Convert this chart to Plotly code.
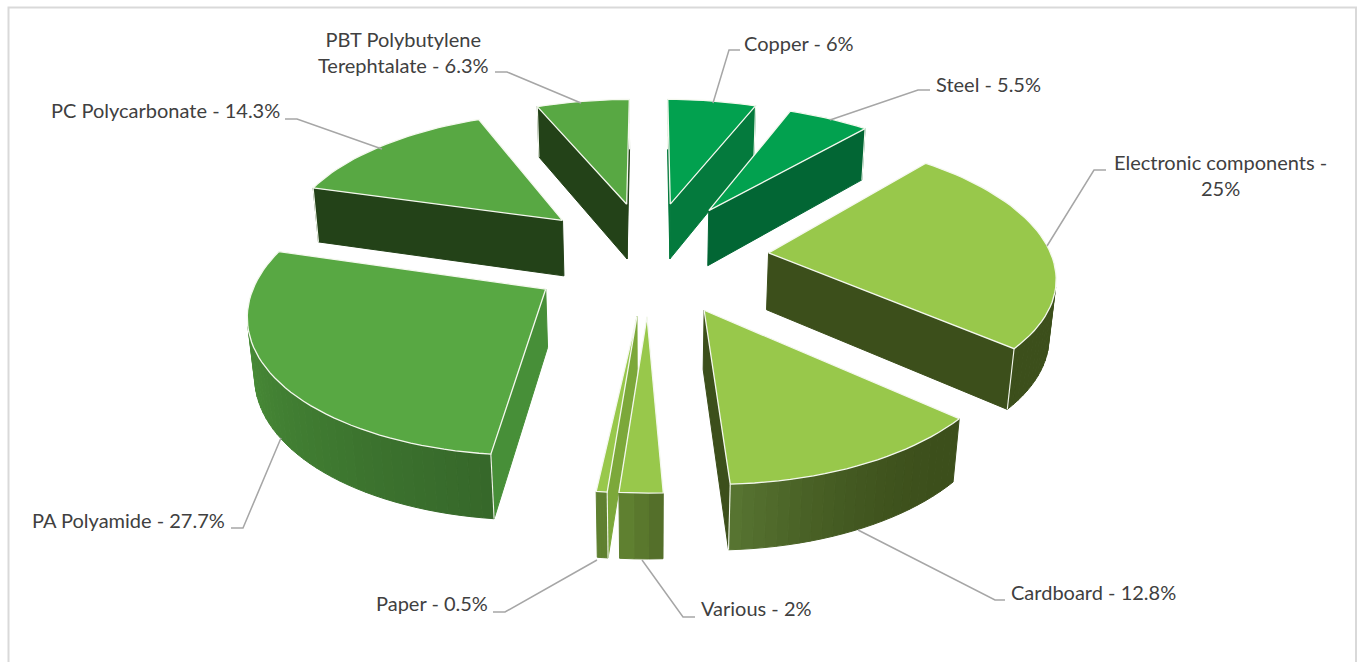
import numpy as np
import plotly.graph_objects as go

# ---- data ----
categories = ["Copper", "Steel", "Electronic components", "Cardboard", "Various",
              "Paper", "PA Polyamide", "PC Polycarbonate", "PBT Polybutylene Terephtalate"]
values = [6, 5.5, 25, 12.8, 2, 0.5, 27.7, 14.3, 6.3]
label_texts = ["Copper - 6%", "Steel - 5.5%", "Electronic components -<br>25%", "Cardboard - 12.8%",
               "Various - 2%", "Paper - 0.5%", "PA Polyamide - 27.7%", "PC Polycarbonate - 14.3%",
               "PBT Polybutylene<br>Terephtalate - 6.3%"]

# ---- styles ----
top_colors = ["#02A14F", "#02A14F", "#98C84B", "#98C84B", "#98C84B", "#98C84B", "#58A843", "#58A843", "#58A843"]
radial_colors = ["#047A3D", "#026634", "#3C4F1B", "#3C4F1B", "#7CA83A", "#7CA83A", "#478F38", "#234218", "#234218"]
rim_start = ["#047A3D", "#026634", "#3C4F1B", "#3C4F1B", "#546F2A", "#5F8030", "#36682A", "#234218", "#234218"]
rim_end = ["#047A3D", "#026634", "#3C4F1B", "#577431", "#5F8030", "#5F8030", "#4F9A3C", "#234218", "#234218"]
rim_power = [1, 1, 1, 2.2, 1, 1, 1, 1, 1]

# ---- camera of the tilted, exploded pie ----
EL = np.radians(28); D = 6.3; S0 = 283; CX = 649; CY = 256.5
EXPLODE = 0.425; H = 0.232


def project(X, Y, Z):
    depth = D + Y * np.cos(EL) - Z * np.sin(EL)
    k = S0 * D / depth
    return CX + X * k, CY - (Y * np.sin(EL) + Z * np.cos(EL)) * k


def mix(a, b, t):
    ca = [int(a[i:i + 2], 16) for i in (1, 3, 5)]
    cb = [int(b[i:i + 2], 16) for i in (1, 3, 5)]
    return "rgb(%d,%d,%d)" % tuple(round(p + (q - p) * t) for p, q in zip(ca, cb))


fig = go.Figure()


def poly(pts, color, edge=None, width=1.0):
    xs = [p[0] for p in pts] + [pts[0][0]]
    ys = [p[1] for p in pts] + [pts[0][1]]
    fig.add_trace(go.Scatter(x=xs, y=ys, mode="lines", fill="toself", fillcolor=color,
                             line=dict(color=edge or color, width=width), hoverinfo="skip", showlegend=False))


def edge_line(p, q):
    fig.add_trace(go.Scatter(x=[p[0], q[0]], y=[p[1], q[1]], mode="lines",
                             line=dict(color="#F4F8EE", width=1.1), hoverinfo="skip", showlegend=False))


def facing(pts):
    a = 0.0
    for i in range(len(pts)):
        x0, y0 = pts[i]; x1, y1 = pts[(i + 1) % len(pts)]
        a += x0 * y1 - x1 * y0
    return a


total = sum(values)
edges = np.cumsum([0] + values) / total * 2 * np.pi
wedges = []
for i, v in enumerate(values):
    a0, a1 = edges[i], edges[i + 1]
    mid = (a0 + a1) / 2
    wedges.append((EXPLODE * np.cos(mid), i, a0, a1, mid))

for _, i, a0, a1, mid in sorted(wedges, reverse=True):
    ox, oy = EXPLODE * np.sin(mid), EXPLODE * np.cos(mid)
    n = max(3, int(np.degrees(a1 - a0) / 2))
    ang = np.linspace(a0, a1, n + 1)
    top = [project(ox, oy, 0)] + [project(ox + np.sin(t), oy + np.cos(t), 0) for t in ang]
    bot = [project(ox, oy, -H)] + [project(ox + np.sin(t), oy + np.cos(t), -H) for t in ang]
    # radial walls
    walls = []
    for a, b, outer in ((0, 1, 1), (n + 1, 0, n + 1)):
        q = [top[a], top[b], bot[b], bot[a]]
        if facing(q) < 0:
            poly(q, radial_colors[i])
            walls.append(outer)
    # outer rim
    for j in range(1, n + 1):
        q = [top[j], top[j + 1], bot[j + 1], bot[j]]
        if facing(q) < 0:
            t = (j - 1) / max(n - 1, 1)
            poly(q, mix(rim_start[i], rim_end[i], t ** rim_power[i]))
    for outer in walls:
        edge_line(top[outer], bot[outer])
    poly(top, top_colors[i], edge="#F4F8EE", width=1.3)

# ---- leader lines and labels, placed as in the picture ----
leaders = [
    ([740, 729, 713], [50, 50, 103]),
    ([930, 918, 830], [90, 90, 120]),
    ([1106, 1094, 1047], [170, 170, 246]),
    ([1005, 995, 858], [600, 600, 530]),
    ([695, 683, 642], [617, 617, 560]),
    ([493, 505, 597], [612, 612, 560]),
    ([231, 243, 281], [528, 528, 438]),
    ([285, 297, 382], [119, 119, 149]),
    ([495, 507, 581], [72, 72, 103]),
]
for lx, ly in leaders:
    fig.add_trace(go.Scatter(x=lx, y=ly, mode="lines", line=dict(color="#A6A6A6", width=1.5),
                             hoverinfo="skip", showlegend=False))

label_pos = [(742, 43, "left"), (934, 84, "left"), (1220, 175, "center"), (1009, 592, "left"),
             (699, 608, "left"), (374, 603, "left"), (30, 520, "left"), (49, 110, "left"), (403, 52, "center")]
for txt, (x, y, al) in zip(label_texts, label_pos):
    fig.add_annotation(x=x, y=y, xref="x", yref="y", text=txt, showarrow=False, align="center",
                       xanchor=al, yanchor="middle", font=dict(family="Lato", size=20, color="#404040"))

# chart frame (open at the bottom)
fig.add_trace(go.Scatter(x=[8.5, 8.5, 1356, 1356], y=[662, 7.5, 7.5, 662], mode="lines",
                         line=dict(color="#D9D9D9", width=2), hoverinfo="skip", showlegend=False))

fig.update_layout(width=1357, height=662, margin=dict(l=0, r=0, t=0, b=0),
                  paper_bgcolor="white", plot_bgcolor="white", showlegend=False,
                  xaxis=dict(range=[0, 1357], visible=False),
                  yaxis=dict(range=[662, 0], visible=False))
fig.write_html("out.html", config=dict(displayModeBar=False),
               post_script="document.body.style.margin='0';document.documentElement.style.overflow='hidden';")
